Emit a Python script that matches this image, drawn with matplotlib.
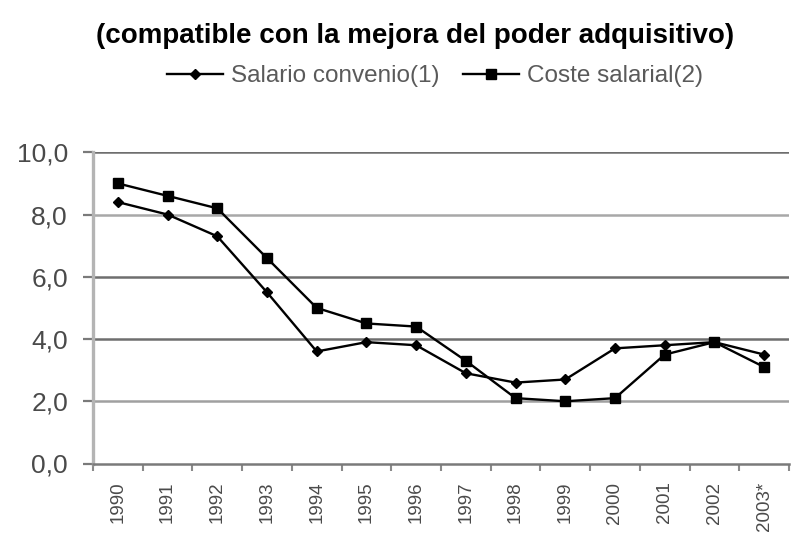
import matplotlib
matplotlib.use("Agg")
import matplotlib.pyplot as plt
import numpy as np

plt.rcParams['font.family'] = ['Liberation Sans', 'DejaVu Sans']

years = ["1990", "1991", "1992", "1993", "1994", "1995", "1996", "1997",
         "1998", "1999", "2000", "2001", "2002", "2003*"]
salario_convenio = [8.4, 8.0, 7.3, 5.5, 3.6, 3.9, 3.8, 2.9, 2.6, 2.7, 3.7, 3.8, 3.9, 3.5]
coste_salarial = [9.0, 8.6, 8.2, 6.6, 5.0, 4.5, 4.4, 3.3, 2.1, 2.0, 2.1, 3.5, 3.9, 3.1]
yticks = [0, 2, 4, 6, 8, 10]
ytick_labels = ["0,0", "2,0", "4,0", "6,0", "8,0", "10,0"]

title = "(compatible con la mejora del poder adquisitivo)"

fig = plt.figure(figsize=(7.95, 5.38), dpi=100)
ax = fig.add_axes([93/795, 1 - 463.5/538, (789 - 93)/795, (463.5 - 152.3)/538])

x = np.arange(len(years))
grid_col = {0: '#6e6e6e', 2: '#a0a0a0', 4: '#6e6e6e', 6: '#6e6e6e', 8: '#a8a8a8', 10: '#6e6e6e'}
for v in yticks[1:]:
    ax.axhline(v, color=grid_col[v], lw=1.8, zorder=1)

ax.plot(x, salario_convenio, color='black', lw=1.7, marker='D', markersize=5,
        label='Salario convenio(1)', zorder=3)
ax.plot(x, coste_salarial, color='black', lw=1.7, marker='s', markersize=7,
        label='Coste salarial(2)', zorder=3)

ax.set_xlim(-0.5, len(years) - 0.5)
ax.set_ylim(0, 10)
ax.set_yticks(yticks)
ax.set_yticklabels(ytick_labels, color='#4a4a4a', fontsize=19)
ax.set_xticks(x)
ax.set_xticklabels(years, rotation=90, color='#4a4a4a', fontsize=13.5)
ax.set_xticks(np.arange(len(years) + 1) - 0.5, minor=True)
ax.tick_params(axis='x', which='major', length=0, pad=13)
ax.tick_params(axis='x', which='minor', length=5, width=1.5, color='#8a8a8a')
ax.tick_params(axis='y', length=7, width=1.6, color='#7a7a7a', pad=11)

for s in ['top', 'right']:
    ax.spines[s].set_visible(False)
ax.spines['left'].set_color('#b4b4b4')
ax.spines['left'].set_linewidth(2.4)
ax.spines['bottom'].set_color('#7a7a7a')
ax.spines['bottom'].set_linewidth(1.8)

fig.text(415/795, 1 - 36/538, title, ha='center', va='center', fontsize=20,
         fontweight='bold', color='black')

leg = fig.legend(loc='center', bbox_to_anchor=(435/795, 1 - 76/538), ncol=2,
                 frameon=False, fontsize=17.5, handlelength=2.3, handletextpad=0.3,
                 columnspacing=1.0, labelcolor='#5a5a5a')

fig.savefig("out.png", dpi=100)
